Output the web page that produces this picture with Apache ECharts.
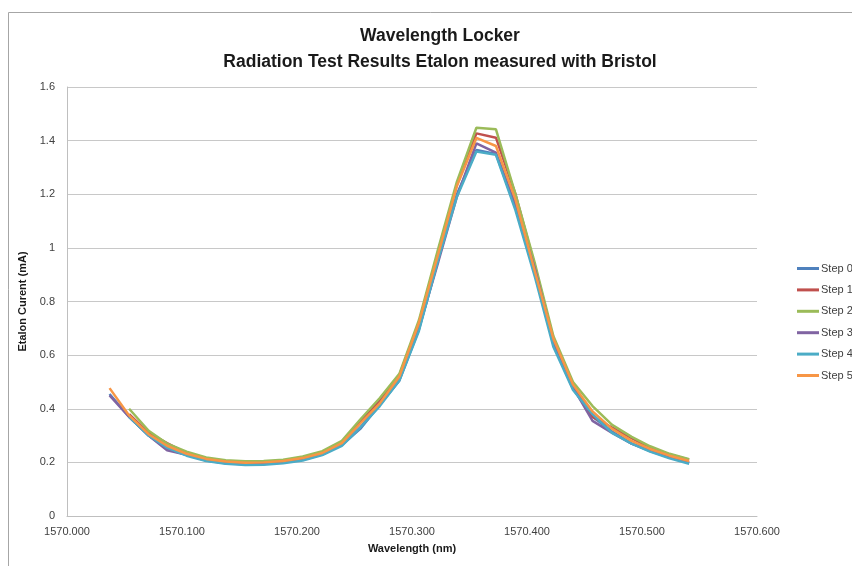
<!DOCTYPE html>
<html>
<head>
<meta charset="utf-8">
<script src="https://cdn.jsdelivr.net/npm/echarts@6/dist/echarts.min.js"></script>
<style>html,body{margin:0;padding:0;background:#fff;}#c{width:852px;height:566px;}</style>
</head>
<body>
<div id="c"></div>
<script>
const titleLines = ['Wavelength Locker', 'Radiation Test Results Etalon measured with Bristol'];
const xName = 'Wavelength (nm)';
const yName = 'Etalon Curent (mA)';
const seriesNames = ['Step 0', 'Step 1', 'Step 2', 'Step 3', 'Step 4', 'Step 5'];
const wavelengths = [1570.037,1570.054,1570.071,1570.087,1570.104,1570.121,1570.138,1570.155,1570.171,1570.188,1570.205,1570.222,1570.239,1570.255,1570.272,1570.289,1570.306,1570.323,1570.339,1570.356,1570.373,1570.390,1570.407,1570.423,1570.440,1570.457,1570.474,1570.491,1570.507,1570.524,1570.541];
const step0 = [0.455,0.37,0.30,0.25,0.228,0.207,0.197,0.193,0.194,0.2,0.21,0.23,0.265,0.325,0.415,0.505,0.695,0.96,1.2,1.365,1.35,1.15,0.9,0.64,0.475,0.37,0.315,0.27,0.242,0.218,0.198];
const step1 = [null,0.38,0.31,0.272,0.235,0.213,0.203,0.199,0.2,0.205,0.217,0.237,0.275,0.35,0.43,0.525,0.72,0.99,1.235,1.427,1.411,1.2,0.93,0.66,0.49,0.37,0.33,0.29,0.255,0.23,0.21];
const step2 = [null,0.4,0.318,0.27,0.24,0.218,0.208,0.204,0.205,0.21,0.222,0.242,0.28,0.36,0.44,0.53,0.73,1.0,1.246,1.448,1.442,1.2,0.94,0.67,0.5,0.41,0.34,0.295,0.26,0.232,0.212];
const step3 = [0.45,0.37,0.3,0.245,0.228,0.208,0.198,0.194,0.195,0.2,0.21,0.23,0.265,0.33,0.42,0.51,0.7,0.95,1.19,1.39,1.355,1.16,0.92,0.65,0.48,0.355,0.31,0.27,0.245,0.22,0.2];
const step4 = [null,0.37,0.3,0.255,0.225,0.205,0.195,0.19,0.191,0.197,0.207,0.227,0.262,0.33,0.41,0.505,0.69,0.96,1.19,1.359,1.347,1.14,0.89,0.63,0.47,0.38,0.31,0.27,0.24,0.215,0.195];
const step5 = [0.477,0.375,0.305,0.262,0.232,0.213,0.203,0.199,0.2,0.205,0.216,0.235,0.272,0.345,0.42,0.52,0.72,0.98,1.23,1.41,1.38,1.18,0.91,0.66,0.49,0.39,0.325,0.28,0.25,0.225,0.205];
const allSteps = [step0, step1, step2, step3, step4, step5];
const colors = ['#4F81BD','#C0504D','#9BBB59','#8064A2','#4BACC6','#F79646'];

const font = 'Liberation Sans, Arial, sans-serif';
const chart = echarts.init(document.getElementById('c'));
chart.setOption({
  animation: false,
  color: colors,
  graphic: [{type:'rect', shape:{x:8.5,y:12.5,width:900,height:600}, style:{fill:'none', stroke:'#a6a6a6', lineWidth:1}, silent:true}],
  title: {
    text: titleLines.join('\n'), left: 435, top: 18, textAlign: 'center',
    textStyle: {fontFamily: font, fontSize: 17.5, fontWeight: 'bold', color: '#1a1a1a', lineHeight: 26}
  },
  legend: {
    orient: 'vertical', left: 797, top: 263, width: 100, itemGap: 10.4, itemWidth: 22, itemHeight: 3,
    icon: 'rect', padding: 0,
    textStyle: {fontFamily: font, fontSize: 11, color: '#404040', overflow: 'none', width: 60, padding: [0,0,0,-3]},
    data: seriesNames
  },
  grid: {left: 67, right: 95, top: 87, bottom: 50},
  xAxis: {
    type: 'value', min: 1570, max: 1570.6, interval: 0.1,
    name: xName, nameLocation: 'middle', nameGap: 27,
    nameTextStyle: {fontFamily: font, fontSize: 11, fontWeight: 'bold', color: '#1a1a1a'},
    axisLine: {show: true, lineStyle: {color: '#bfbfbf'}},
    axisTick: {show: false},
    splitLine: {show: false},
    axisLabel: {fontFamily: font, fontSize: 11, color: '#404040', margin: 10, formatter: v => v.toFixed(3)}
  },
  yAxis: {
    type: 'value', min: 0, max: 1.6, interval: 0.2,
    name: yName, nameLocation: 'middle', nameGap: 30,
    nameTextStyle: {fontFamily: font, fontSize: 11, fontWeight: 'bold', color: '#1a1a1a'},
    axisLine: {show: true, lineStyle: {color: '#bfbfbf'}},
    axisTick: {show: false},
    splitLine: {show: true, lineStyle: {color: '#c8c8c8'}},
    axisLabel: {fontFamily: font, fontSize: 11, color: '#404040', margin: 12, formatter: v => String(Math.round(v*10)/10)}
  },
  series: seriesNames.map((n, i) => ({
    name: n, type: 'line', showSymbol: false, symbol: 'none',
    lineStyle: {width: 2.5, color: colors[i]},
    data: wavelengths.map((w, j) => [w, allSteps[i][j]]).filter(p => p[1] !== null)
  }))
});
</script>
</body>
</html>
